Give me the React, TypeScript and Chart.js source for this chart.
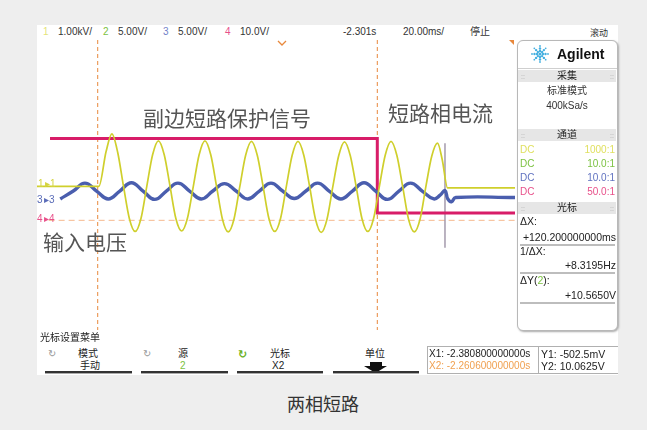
import React, { useEffect, useRef } from "react";
import Chart from "chart.js/auto";

// horizontal: time in ms (20 ms/div); vertical: screen divisions (0 = centre)
const X_MIN = 0;
const X_MAX = 205.5;
const Y_MIN = -3.12;
const Y_MAX = 3.12;

// channel 1 (yellow) – input voltage
const yellowT = [0, 26.6, 29.7, 32.2, 34.7, 37.2, 39.7, 42.2, 44.7, 47.2, 49.7, 52.2, 54.7, 57.2, 59.7, 62.2, 64.7, 67.2, 69.7, 72.2, 74.7, 77.2, 79.7, 82.2, 84.7, 87.2, 89.7, 92.2, 94.7, 97.2, 99.7, 102.2, 104.7, 107.2, 109.7, 112.2, 114.7, 117.2, 119.7, 122.2, 124.7, 127.2, 129.7, 132.2, 134.7, 137.2, 139.7, 142.2, 144.7, 147.2, 149.7, 152.2, 154.7, 157.2, 159.7, 162.2, 164.7, 167.2, 169.7, 172.2, 174.2, 176.5, 205.5];
const yellowV = [-0.03, -0.03, 0.72, 1.1, 0.7, -0.03, -0.72, -1.0, -0.72, -0.03, 0.65, 0.95, 0.65, -0.03, -0.72, -0.99, -0.71, -0.03, 0.65, 0.95, 0.65, -0.03, -0.73, -1.01, -0.73, -0.03, 0.64, 0.94, 0.64, -0.03, -0.72, -1.0, -0.72, -0.03, 0.64, 0.94, 0.64, -0.03, -0.73, -1.02, -0.73, -0.03, 0.63, 0.93, 0.63, -0.03, -0.72, -1.0, -0.72, -0.03, 0.64, 0.94, 0.64, -0.03, -0.73, -1.01, -0.73, -0.03, 0.62, 0.9, 0.55, -0.06, -0.06];

// channel 3 (blue) – short-circuit phase current
const blueT = [10.0, 15.6, 20.6, 25.6, 30.6, 35.6, 40.6, 45.6, 50.6, 55.6, 60.6, 65.6, 70.6, 75.6, 80.6, 85.6, 90.6, 95.6, 100.6, 105.6, 110.6, 115.6, 120.6, 125.6, 130.6, 135.6, 140.6, 145.6, 150.6, 155.6, 160.6, 165.6, 170.6, 173.3, 175.4, 176.6, 178.2, 180.0, 205.5];
const blueV = [-0.3, -0.13, 0.04, -0.13, -0.3, -0.13, 0.05, -0.13, -0.31, -0.13, 0.04, -0.13, -0.3, -0.13, 0.03, -0.13, -0.3, -0.13, 0.04, -0.13, -0.29, -0.13, 0.04, -0.13, -0.3, -0.13, 0.05, -0.13, -0.31, -0.13, 0.04, -0.13, -0.3, -0.22, -0.12, -0.3, -0.36, -0.27, -0.27];

// channel 4 (pink) – secondary short-circuit protection signal
const pinkT = [5.6, 146.3, 146.3, 205.5];
const pinkV = [1.0, 1.0, -0.6, -0.6];

// horizontal reference (dashed orange) and cursors
const refT = [5.0, 205.5];
const refV = [-0.76, -0.76];
const cursorT = [26.1, 146.3];
const markerT = 175.4;
const markerV = [0.9, -1.35];

const headerLabels = [
  { x: 43, t: "1", c: "#e4e47a" },
  { x: 58, t: "1.00kV/", c: "#333" },
  { x: 103, t: "2", c: "#7cc242" },
  { x: 118, t: "5.00V/", c: "#333" },
  { x: 163, t: "3", c: "#7282c8" },
  { x: 178, t: "5.00V/", c: "#333" },
  { x: 225, t: "4", c: "#e8508a" },
  { x: 240, t: "10.0V/", c: "#333" },
  { x: 343, t: "-2.301s", c: "#333" },
  { x: 403, t: "20.00ms/", c: "#333" },
  { x: 470, t: "停止", c: "#333" },
];

const UI = '"Liberation Sans","Noto Sans CJK SC",sans-serif';
const CJK = '"Noto Sans CJK SC",sans-serif';

function T(p: any) {
  const size = p.size || 10;
  const lh = size + 4;
  const style: any = {
    position: "absolute",
    top: p.y - lh / 2,
    lineHeight: lh + "px",
    fontSize: size,
    color: p.color || "#222",
    fontFamily: p.family || UI,
    fontWeight: p.bold ? 700 : 400,
    whiteSpace: "nowrap",
  };
  if (p.align === "center") {
    style.left = p.x - 150;
    style.width = 300;
    style.textAlign = "center";
  } else if (p.align === "right") {
    style.left = p.x - 300;
    style.width = 300;
    style.textAlign = "right";
  } else {
    style.left = p.x;
  }
  return <div style={style}>{p.children}</div>;
}

function Box(p: any) {
  return (
    <div
      style={{
        position: "absolute",
        left: p.x,
        top: p.y,
        width: p.w,
        height: p.h,
        background: p.bg,
        border: p.border,
        borderRadius: p.r,
        boxShadow: p.shadow,
        boxSizing: "border-box",
      }}
    />
  );
}

function Band(p: any) {
  return (
    <>
      <Box x={518} y={p.y} w={98} h={12} bg="#e6e6e6" />
      <T x={521} y={p.y + 6} size={7} color="#aaa">::</T>
      <T x={610} y={p.y + 6} size={7} color="#aaa">::</T>
      <T x={567} y={p.y + 6} align="center" size={10} color="#222">{p.label}</T>
    </>
  );
}

function Logo() {
  const dots: any[] = [];
  for (let a = 0; a < 8; a++) {
    const ang = (a * Math.PI) / 4;
    [3, 5.5, 8].forEach((r, i) => {
      dots.push(
        <circle key={a + "-" + i} cx={10 + r * Math.cos(ang)} cy={10 + r * Math.sin(ang)} r={i === 2 ? 0.9 : 1.2} fill="#45b0e0" />
      );
    });
  }
  return (
    <svg width={20} height={20} style={{ position: "absolute", left: 530, top: 44 }}>
      <circle cx={10} cy={10} r={1.6} fill="#45b0e0" />
      {dots}
    </svg>
  );
}

function ScopeChart() {
  const ref = useRef<HTMLCanvasElement | null>(null);
  useEffect(() => {
    if (!ref.current) return;
    const pts = (xs: number[], ys: number[]) => xs.map((x, i) => ({ x, y: ys[i] }));
    const chart = new Chart(ref.current, {
      type: "line",
      data: {
        datasets: [
          {
            data: pts(yellowT, yellowV),
            borderColor: "#cfcf2c",
            borderWidth: 1.7,
            cubicInterpolationMode: "monotone",
            order: 0,
          },
          {
            data: pts(blueT, blueV),
            borderColor: "#4a5eae",
            borderWidth: 3.4,
            tension: 0.45,
            order: 1,
          },
          {
            data: pts(pinkT, pinkV),
            borderColor: "#d81d68",
            borderWidth: 3,
            tension: 0,
            order: 2,
          },
          {
            data: pts([cursorT[0], cursorT[0]], [Y_MAX, Y_MIN]),
            borderColor: "#e8883c",
            borderWidth: 1,
            borderDash: [4, 3],
            tension: 0,
            order: 3,
          },
          {
            data: pts([cursorT[1], cursorT[1]], [Y_MAX, Y_MIN]),
            borderColor: "#e8883c",
            borderWidth: 1,
            borderDash: [4, 3],
            tension: 0,
            order: 3,
          },
          {
            data: pts([markerT, markerT], markerV),
            borderColor: "#8e8298",
            borderWidth: 1.2,
            tension: 0,
            order: 4,
          },
          {
            data: pts(refT, refV),
            borderColor: "#f6b88e",
            borderWidth: 1,
            borderDash: [6, 4],
            tension: 0,
            order: 5,
          },
        ],
      },
      options: {
        animation: false,
        responsive: true,
        maintainAspectRatio: false,
        events: [],
        layout: { padding: 0 },
        elements: { point: { radius: 0 } },
        plugins: { legend: { display: false }, tooltip: { enabled: false } },
        scales: {
          x: { type: "linear", min: X_MIN, max: X_MAX, display: false },
          y: { type: "linear", min: Y_MIN, max: Y_MAX, display: false },
        },
      },
    });
    return () => chart.destroy();
  }, []);
  return (
    <div style={{ position: "absolute", left: 37, top: 40, width: 478, height: 290 }}>
      <canvas ref={ref} />
    </div>
  );
}

export default function App() {
  const menuLines = [
    [45, 132],
    [141, 228],
    [237, 323],
    [333, 419],
  ];
  return (
    <div style={{ position: "fixed", left: 0, top: 0, width: 647, height: 430, background: "#eeeeee", overflow: "hidden" }}>
      <Box x={37} y={25} w={581} h={350} bg="#ffffff" />
      <ScopeChart />

      {headerLabels.map((h, i) => (
        <T key={i} x={h.x} y={32} color={h.c}>{h.t}</T>
      ))}
      <T x={590} y={33} size={9} color="#333">滚动</T>

      {/* trigger / position markers */}
      <svg width={12} height={8} style={{ position: "absolute", left: 277, top: 40 }}>
        <polyline points="1,1 5,5 9,1" fill="none" stroke="#e8883c" strokeWidth={1.3} />
      </svg>
      <svg width={6} height={6} style={{ position: "absolute", left: 509, top: 40 }}>
        <polygon points="0,0 5,0 5,5" fill="#e8883c" />
      </svg>

      {/* ground markers */}
      <T x={38} y={184} size={10} color="#d4d440">1</T>
      <T x={45} y={184} size={10} color="#d4d440">▸1</T>
      <T x={37} y={200} size={10} color="#5a6cb8">3</T>
      <T x={44} y={200} size={10} color="#5a6cb8">▸3</T>
      <T x={37} y={219} size={10} color="#e8508a">4</T>
      <T x={44} y={219} size={10} color="#e8508a">▸4</T>

      {/* annotations */}
      <T x={143} y={117} size={21} family={CJK} color="#555">副边短路保护信号</T>
      <T x={388} y={112} size={21} family={CJK} color="#555">短路相电流</T>
      <T x={43} y={241} size={21} family={CJK} color="#555">输入电压</T>

      {/* right side panel */}
      <Box x={517} y={40} w={101} h={291} bg="#fff" border="1px solid #b8b8b8" r={6} shadow="1px 1px 2px #aaa" />
      <Logo />
      <T x={557} y={54} size={14} bold color="#111">Agilent</T>
      <Box x={518} y={68} w={99} h={1} bg="#cfcfcf" />
      <Band y={70} label="采集" />
      <T x={567} y={91} align="center" size={10} color="#333">标准模式</T>
      <T x={567} y={106} align="center" size={10} color="#333">400kSa/s</T>
      <Band y={129} label="通道" />
      {[
        { y: 150, c: "#e0e060", r: "1000:1" },
        { y: 164, c: "#7cc242", r: "10.0:1" },
        { y: 178, c: "#6072c0", r: "10.0:1" },
        { y: 192, c: "#e8508a", r: "50.0:1" },
      ].map((d, i) => (
        <React.Fragment key={i}>
          <T x={520} y={d.y} size={10} color={d.c}>DC</T>
          <T x={615} y={d.y} align="right" size={10} color={d.c}>{d.r}</T>
        </React.Fragment>
      ))}
      <Band y={202} label="光标" />
      <T x={520} y={221} size={10.5} color="#222">ΔX:</T>
      <T x={616} y={237} align="right" size={10.5} color="#222">+120.200000000ms</T>
      <Box x={520} y={244} w={95} h={2} bg="#bdbdbd" />
      <T x={520} y={251} size={10.5} color="#222">1/ΔX:</T>
      <T x={616} y={265} align="right" size={10.5} color="#222">+8.3195Hz</T>
      <Box x={520} y={272} w={95} h={2} bg="#bdbdbd" />
      <T x={520} y={280} size={10.5} color="#222">
        ΔY(<span style={{ color: "#7cc242" }}>2</span>):
      </T>
      <T x={616} y={295} align="right" size={10.5} color="#222">+10.5650V</T>
      <Box x={520} y={302} w={95} h={2} bg="#bdbdbd" />

      {/* bottom soft-key menu */}
      <T x={40} y={338} size={10} color="#222">光标设置菜单</T>
      <T x={48} y={354} size={10} family='"DejaVu Sans",sans-serif' color="#999">↻</T>
      <T x={78} y={354} size={10} color="#222">模式</T>
      <T x={80} y={366} size={10} color="#222">手动</T>
      <T x={143} y={354} size={10} family='"DejaVu Sans",sans-serif' color="#999">↻</T>
      <T x={178} y={354} size={10} color="#222">源</T>
      <T x={180} y={366} size={10} color="#7cc242">2</T>
      <T x={238} y={354} size={11} bold family='"DejaVu Sans",sans-serif' color="#6ab023">↻</T>
      <T x={270} y={354} size={10} color="#222">光标</T>
      <T x={272} y={366} size={10} color="#222">X2</T>
      <T x={365} y={354} size={10} color="#222">单位</T>
      <Box x={370} y={362} w={12} h={5} bg="#111" />
      <svg width={24} height={8} style={{ position: "absolute", left: 364, top: 366 }}>
        <polygon points="0,0 23,0 11.5,7" fill="#111" />
      </svg>
      {menuLines.map((m, i) => (
        <React.Fragment key={i}>
          <Box x={m[0]} y={371} w={m[1] - m[0]} h={2} bg="#333" />
          <Box x={m[0]} y={373} w={m[1] - m[0]} h={1} bg="#aaa" />
        </React.Fragment>
      ))}
      <Box x={427} y={346} w={112} h={28} border="1px solid #b0b0b0" />
      <T x={429} y={354} size={10} color="#222">X1: -2.380800000000s</T>
      <T x={429} y={366} size={10} color="#f0a050">X2: -2.260600000000s</T>
      <Box x={538} y={346} w={90} h={28} border="1px solid #b0b0b0" />
      <T x={541} y={354} size={10.5} color="#222">Y1: -502.5mV</T>
      <T x={541} y={366} size={10.5} color="#222">Y2: 10.0625V</T>
      <Box x={618} y={340} w={29} h={40} bg="#eeeeee" />

      <T x={323} y={403} align="center" size={18} family={CJK} color="#333">两相短路</T>
    </div>
  );
}
